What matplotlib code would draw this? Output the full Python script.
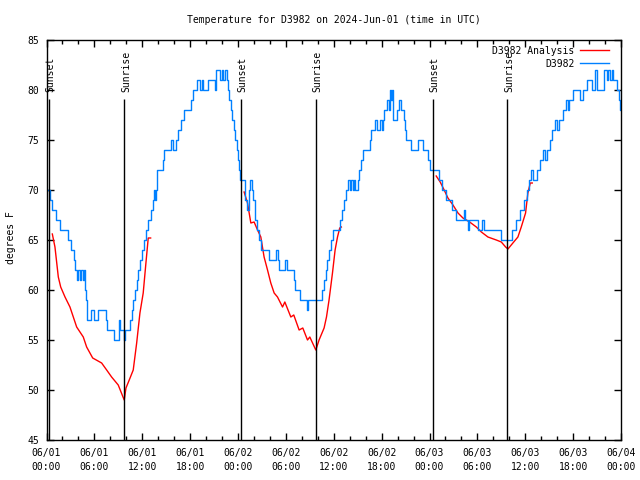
import matplotlib
matplotlib.use('Agg')
import matplotlib.pyplot as plt
from matplotlib.ticker import MultipleLocator

# observed temperature (hours since 2024-06-01 00:00 UTC, deg F), step changes
obs_hours = [0.00, 0.44, 0.73, 1.15, 1.69, 2.73, 3.03, 3.48, 3.63, 3.76, 3.94, 4.19, 4.38, 4.57,
             4.70, 4.86, 4.98, 5.10, 5.63, 5.95, 6.51, 7.41, 7.64, 8.52, 9.08, 9.27, 9.70, 9.78,
             10.52, 10.77, 10.89, 11.14, 11.33, 11.52, 11.77, 11.96, 12.21, 12.46, 12.71, 13.09,
             13.34, 13.52, 13.62, 13.71, 13.81, 13.90, 14.63, 14.78, 15.65, 15.82, 16.25, 16.47,
             16.91, 17.28, 18.09, 18.41, 18.88, 19.22, 19.43, 19.60, 20.22, 21.10, 21.29, 21.73,
             22.01, 22.17, 22.35, 22.57, 22.77, 22.92, 23.10, 23.27, 23.48, 23.67, 23.85, 24.02,
             24.17, 24.29, 24.92, 25.11, 25.42, 25.55, 25.73, 25.86, 26.17, 26.32, 26.67, 26.86,
             27.90, 28.80, 28.99, 29.18, 29.93, 30.12, 31.00, 31.18, 31.74, 32.68, 32.81, 34.50,
             34.75, 35.00, 35.19, 35.44, 35.62, 35.94, 36.75, 37.06, 37.32, 37.50, 37.75, 38.00,
             38.13, 38.38, 38.50, 38.69, 39.07, 39.19, 39.44, 39.63, 40.51, 40.70, 41.20, 41.38,
             41.82, 42.01, 42.14, 42.32, 42.64, 42.95, 43.08, 43.20, 43.30, 43.43, 43.95, 44.18,
             44.48, 44.83, 44.95, 45.08, 45.73, 46.56, 47.18, 47.77, 48.06, 49.21, 49.59, 50.03,
             50.78, 51.34, 52.28, 52.47, 52.85, 52.97, 54.03, 54.60, 54.85, 57.00, 58.35, 58.79,
             59.29, 59.79, 60.23, 60.42, 60.67, 60.93, 61.49, 61.86, 62.17, 62.48, 62.67, 63.05,
             63.36, 63.67, 63.93, 64.17, 64.68, 65.11, 65.30, 65.49, 65.99, 66.87, 67.24, 67.74,
             68.37, 68.75, 69.00, 69.88, 70.19, 70.37, 70.63, 70.81, 71.06, 71.44, 71.75, 71.88,
             72.00]
obs_temps = [70, 69, 68, 67, 66, 65, 64, 63, 62, 61, 62, 61, 62, 61,
             62, 60, 59, 57, 58, 57, 58, 57, 56, 55, 57, 56, 55, 56,
             57, 58, 59, 60, 61, 62, 63, 64, 65, 66, 67, 68,
             69, 70, 69, 70, 71, 72, 73, 74, 75, 74, 75, 76,
             77, 78, 79, 80, 81, 80, 81, 80, 81, 80, 82, 81,
             82, 81, 82, 81, 80, 79, 78, 77, 76, 75, 74, 73,
             72, 71, 69, 68, 70, 71, 70, 69, 67, 66, 65, 64,
             63, 64, 63, 62, 63, 62, 61, 60, 59, 58, 59, 60,
             61, 62, 63, 64, 65, 66, 67, 68, 69, 70, 71, 70,
             71, 70, 71, 70, 71, 72, 73, 74, 75, 76, 77, 76,
             77, 76, 77, 78, 79, 78, 80, 79, 80, 77, 78, 79,
             78, 77, 76, 75, 74, 75, 74, 73, 72, 71, 70, 69,
             68, 67, 68, 67, 66, 67, 66, 67, 66, 65, 66, 67,
             68, 69, 70, 71, 72, 71, 72, 73, 74, 73, 74, 75,
             76, 77, 76, 77, 78, 79, 78, 79, 80, 79, 80, 81,
             80, 82, 80, 82, 81, 82, 81, 82, 81, 80, 79, 78,
             78]

# analysis (three night segments)
ana1_hours = [0.73, 1.06, 1.48, 1.78, 2.32, 2.94, 3.36, 3.78, 4.61, 5.03, 5.79, 6.91, 7.54,
              8.16, 8.99, 9.74, 9.96, 10.37, 10.87, 11.30, 11.71, 12.12, 12.46, 12.75, 13.05]
ana1_temps = [65.6, 64.3, 61.3, 60.3, 59.3, 58.3, 57.3, 56.3, 55.3, 54.3, 53.2, 52.7, 52.0,
              51.3, 50.5, 49.0, 50.2, 51.0, 52.0, 54.7, 57.7, 59.7, 62.7, 65.2, 65.2]
ana2_hours = [24.77, 25.19, 25.61, 26.02, 26.45, 26.86, 27.27, 27.70, 28.11, 28.53, 28.95,
              29.58, 29.87, 30.62, 30.99, 31.66, 32.12, 32.71, 33.00, 33.75, 34.16, 34.79,
              35.09, 35.41, 35.84, 36.17, 36.47, 36.75, 36.95]
ana2_temps = [69.8, 68.7, 66.7, 66.8, 66.0, 65.3, 63.3, 62.0, 60.7, 59.7, 59.3,
              58.3, 58.8, 57.3, 57.5, 56.0, 56.2, 55.0, 55.3, 54.0, 55.0, 56.2,
              57.3, 59.0, 61.7, 64.0, 65.3, 66.2, 66.3]
ana3_hours = [48.84, 49.34, 49.84, 50.31, 50.94, 51.57, 52.19, 53.03, 53.87, 54.50, 55.32,
              56.37, 57.00, 57.54, 57.83, 58.45, 59.08, 59.50, 60.04, 60.33, 60.63, 60.88]
ana3_temps = [71.4, 70.8, 70.0, 69.2, 68.5, 67.7, 67.2, 66.8, 66.3, 65.8, 65.3,
              65.0, 64.8, 64.3, 64.1, 64.7, 65.3, 66.3, 67.7, 69.7, 70.7, 70.7]

sun_hours = [0.30, 9.75, 24.40, 33.80, 48.45, 57.75]
sun_labels = ['Sunset', 'Sunrise', 'Sunset', 'Sunrise', 'Sunset', 'Sunrise']

tick_hours = list(range(0, 73, 6))
tick_labels = ['06/01\n00:00', '06/01\n06:00', '06/01\n12:00', '06/01\n18:00',
               '06/02\n00:00', '06/02\n06:00', '06/02\n12:00', '06/02\n18:00',
               '06/03\n00:00', '06/03\n06:00', '06/03\n12:00', '06/03\n18:00',
               '06/04\n00:00']

plt.rcParams['font.family'] = ['DejaVu Sans Mono']
plt.rcParams['font.size'] = 7

fig = plt.figure(figsize=(6.4, 4.8), dpi=100)
ax = fig.add_axes([46.5 / 640, 40 / 480, 574.5 / 640, 400 / 480])

red = '#ff0000'
blue = '#0080ff'
ax.plot(ana1_hours, ana1_temps, color=red, lw=1, label='D3982 Analysis')
ax.plot(ana2_hours, ana2_temps, color=red, lw=1)
ax.plot(ana3_hours, ana3_temps, color=red, lw=1)
ax.plot(obs_hours, obs_temps, color=blue, lw=1, drawstyle='steps-post', label='D3982')

ax.vlines(sun_hours, 45, 79.1, colors='k', lw=1)
for h, lab in zip(sun_hours, sun_labels):
    ax.text(h + 0.2, 79.8, lab, rotation=90, ha='center', va='bottom', fontsize=7)

ax.set_xlim(0, 72)
ax.set_ylim(45, 85)
ax.set_xticks(tick_hours)
ax.set_xticklabels(tick_labels, linespacing=1.5)
ax.xaxis.set_minor_locator(MultipleLocator(2))
ax.yaxis.set_major_locator(MultipleLocator(5))
ax.tick_params(which='both', direction='in', top=True, right=True, width=1)
ax.tick_params(which='major', length=5)
ax.tick_params(which='minor', length=3)
ax.tick_params(axis='x', pad=6)
ax.tick_params(axis='y', pad=5)
for s in ax.spines.values():
    s.set_linewidth(1)

ax.set_title('Temperature for D3982 on 2024-Jun-01 (time in UTC)', pad=12, fontsize=7)
fig.text(11 / 640, 0.505, 'degrees F', rotation=90, ha='center', va='center', fontsize=7)

ax.legend(loc='upper right', bbox_to_anchor=(0.99, 1.0), frameon=False, markerfirst=False,
          handlelength=3.0, handletextpad=0.6, borderaxespad=0.2, labelspacing=0.3,
          fontsize=7)

fig.savefig('out.png', dpi=100)
